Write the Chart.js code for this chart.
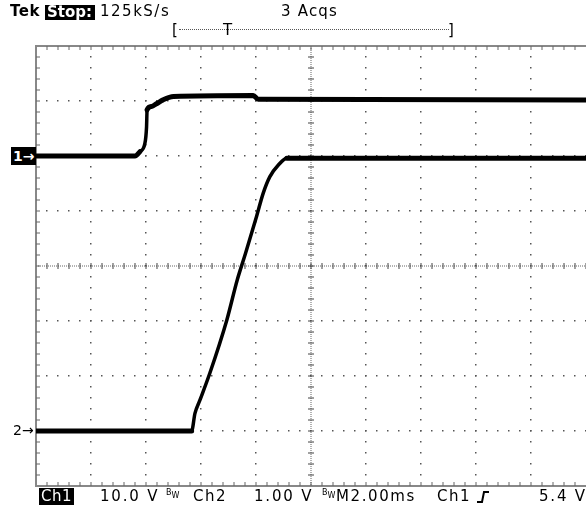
<!DOCTYPE html>
<html>
<head>
<meta charset="utf-8">
<script src="https://cdn.jsdelivr.net/npm/chart.js@4/dist/chart.umd.min.js"></script>
<style>
  body { margin: 0; background: #fff; }
  #wrap { position: relative; width: 586px; height: 509px; overflow: hidden; }
  #scope { position: absolute; left: 0; top: 0; }
  .t { position: absolute; font-family: "DejaVu Sans", sans-serif; font-size: 15px; line-height: 15px; color: #000; white-space: pre; letter-spacing: 1px; }
  .inv { background: #000; color: #fff; padding: 0 2px; }
  .bw { font-size: 8px; line-height: 8px; letter-spacing: 0; }
  .bw sub { font-size: 8px; vertical-align: -3px; }
</style>
</head>
<body>
<div id="wrap">
  <canvas id="scope" width="586" height="509"></canvas>

  <!-- status line -->
  <div class="t" style="left:10px;top:4px;font-weight:bold;letter-spacing:0.5px">Tek</div>
  <div class="t inv" style="left:45px;top:5px;font-weight:bold;letter-spacing:0;padding:0 3px 0 2px">Stop:</div>
  <div class="t" style="left:100px;top:4px;letter-spacing:1.5px">125kS/s</div>
  <div class="t" style="left:281px;top:4px;letter-spacing:1.2px">3 Acqs</div>

  <!-- record bar -->
  <div class="t" style="left:172px;top:23px">[</div>
  <div style="position:absolute;left:179px;top:29px;width:270px;border-top:1px dotted #555"></div>
  <div class="t" style="left:223px;top:23px">T</div>
  <div class="t" style="left:448px;top:23px">]</div>

  <!-- channel markers -->
  <div class="t inv" style="left:11px;top:147px;font-weight:bold;font-size:14px;line-height:18px;letter-spacing:0;padding:0 2px">1→</div>
  <div class="t" style="left:13px;top:423px;font-size:14px;letter-spacing:0">2→</div>

  <!-- settings line -->
  <div class="t inv" style="left:39px;top:488px;line-height:17px;letter-spacing:0.5px">Ch1</div>
  <div class="t" style="left:100px;top:489px;letter-spacing:1.8px">10.0 V</div>
  <div class="t bw" style="left:166px;top:489px">B<sub>W</sub></div>
  <div class="t" style="left:193px;top:489px;letter-spacing:1.5px">Ch2</div>
  <div class="t" style="left:254px;top:489px;letter-spacing:1.8px">1.00 V</div>
  <div class="t bw" style="left:322px;top:489px">B<sub>W</sub></div>
  <div class="t" style="left:336px;top:489px;letter-spacing:1.6px">M2.00ms</div>
  <div class="t" style="left:437px;top:489px;letter-spacing:1.5px">Ch1</div>
  <svg style="position:absolute;left:476px;top:490px" width="14" height="14">
    <polyline points="1,12 6,12 8,2 13,2" fill="none" stroke="#000" stroke-width="2"/>
  </svg>
  <div class="t" style="left:539px;top:489px;letter-spacing:1.8px">5.4 V</div>
</div>

<script>
// time in ms from the left edge of the screen (2 ms/div)
var ch1Time  = [0, 3.6, 3.78, 3.96, 4.02, 4.04, 4.2, 4.38, 4.62, 5.0, 7.9, 8.08, 20];
var ch1Volts = [0, 0, 0.8, 2.3, 5.3, 8.4, 9.0, 9.5, 10.2, 10.8, 11.0, 10.3, 10.2];

var ch2Time  = [0, 5.66, 5.78, 5.96, 6.32, 6.94, 7.32, 7.62, 8.02, 8.26, 8.5, 8.82, 9.12, 20];
var ch2Volts = [0, 0, 0.32, 0.56, 1.05, 2.02, 2.75, 3.23, 3.9, 4.32, 4.62, 4.84, 4.96, 4.96];

// vertical settings: volts per division and ground position (divisions from centre)
var ch1Scale = 10.0, ch1Ground = 2;
var ch2Scale = 1.00, ch2Ground = -3;

function toDivs(times, volts, scale, ground) {
    var pts = [];
    for (var i = 0; i < times.length; i++) {
        pts.push({ x: times[i], y: volts[i] / scale + ground });
    }
    return pts;
}

// draws the scope graticule from the chart scales
var graticule = {
    id: 'graticule',
    beforeDatasetsDraw: function(chart) {
        var ctx = chart.ctx;
        var xs = chart.scales.x, ys = chart.scales.y;
        var a = chart.chartArea;
        var i, j, px, py;
        ctx.save();

        // dotted grid lines, one dot every 1/5 division
        ctx.fillStyle = '#555';
        for (i = 1; i < 10; i++) {
            if (i === 5) continue;
            px = Math.round(xs.getPixelForValue(i * 2));
            for (j = 0; j <= 40; j++) {
                py = Math.round(ys.getPixelForValue(-4 + j * 0.2));
                ctx.fillRect(px - 1, py - 1, 1.5, 1.5);
            }
        }
        for (i = -3; i <= 3; i++) {
            if (i === 0) continue;
            py = Math.round(ys.getPixelForValue(i));
            for (j = 0; j <= 50; j++) {
                px = Math.round(xs.getPixelForValue(j * 0.4));
                ctx.fillRect(px - 1, py - 1, 1.5, 1.5);
            }
        }

        // centre cross, fine dots with small ticks
        var cx = Math.round(xs.getPixelForValue(10));
        var cy = Math.round(ys.getPixelForValue(0));
        ctx.fillStyle = '#666';
        for (py = a.top; py < a.bottom; py += 2) ctx.fillRect(cx - 0.5, py, 1, 1);
        for (px = a.left; px < a.right; px += 2) ctx.fillRect(px, cy - 0.5, 1, 1);
        ctx.fillStyle = '#444';
        for (j = 0; j <= 40; j++) {
            py = Math.round(ys.getPixelForValue(-4 + j * 0.2));
            ctx.fillRect(cx - 3, py - 0.5, 6, 1);
        }
        for (j = 0; j <= 50; j++) {
            px = Math.round(xs.getPixelForValue(j * 0.4));
            ctx.fillRect(px - 0.5, cy - 3, 1, 6);
        }

        // frame with edge ticks
        ctx.strokeStyle = '#888';
        ctx.lineWidth = 2;
        ctx.beginPath();
        ctx.moveTo(a.right + 2, a.top);
        ctx.lineTo(a.left, a.top);
        ctx.lineTo(a.left, a.bottom);
        ctx.lineTo(a.right + 2, a.bottom);
        ctx.stroke();
        ctx.fillStyle = '#666';
        for (j = 1; j < 50; j++) {
            px = Math.round(xs.getPixelForValue(j * 0.4));
            ctx.fillRect(px - 0.5, a.top, 1, 4);
            ctx.fillRect(px - 0.5, a.bottom - 4, 1, 4);
        }
        for (j = 1; j < 40; j++) {
            py = Math.round(ys.getPixelForValue(-4 + j * 0.2));
            ctx.fillRect(a.left, py - 0.5, 4, 1);
        }
        ctx.restore();
    }
};

// flat parts of the trace look thicker on the screen than the edges
function traceWidth(c) {
    return Math.abs(c.p1.parsed.y - c.p0.parsed.y) < 0.12 ? 5 : 3.5;
}

new Chart(document.getElementById('scope'), {
    type: 'line',
    data: {
        datasets: [{
            label: 'Ch1',
            data: toDivs(ch1Time, ch1Volts, ch1Scale, ch1Ground),
            borderColor: '#000',
            borderWidth: 5,
            borderCapStyle: 'round',
            borderJoinStyle: 'round',
            pointRadius: 0,
            cubicInterpolationMode: 'monotone',
            segment: { borderWidth: traceWidth }
        }, {
            label: 'Ch2',
            data: toDivs(ch2Time, ch2Volts, ch2Scale, ch2Ground),
            borderColor: '#000',
            borderWidth: 5,
            borderCapStyle: 'round',
            borderJoinStyle: 'round',
            pointRadius: 0,
            cubicInterpolationMode: 'monotone',
            segment: { borderWidth: traceWidth }
        }]
    },
    options: {
        responsive: false,
        animation: false,
        layout: { padding: { left: 36, top: 46, right: 0, bottom: 23 } },
        plugins: { legend: { display: false }, tooltip: { enabled: false } },
        scales: {
            x: { type: 'linear', min: 0, max: 20, display: false },
            y: { type: 'linear', min: -4, max: 4, display: false }
        }
    },
    plugins: [graticule]
});
</script>
</body>
</html>
